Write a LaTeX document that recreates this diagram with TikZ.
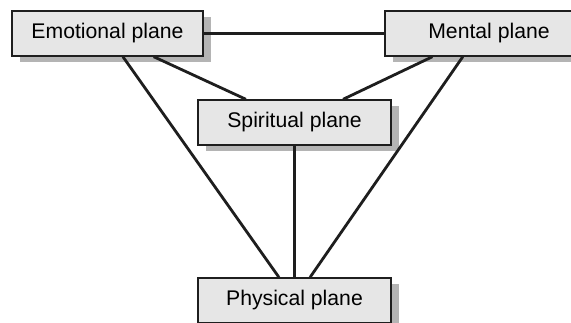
\documentclass[tikz,border=0pt]{standalone}
\usepackage{fontspec}
\setmainfont{Liberation Sans}
\usetikzlibrary{calc,shadows}
\definecolor{boxfill}{HTML}{E6E6E6}
\definecolor{shadowgray}{HTML}{B4B4B4}
\definecolor{ink}{HTML}{1E1E1E}
\begin{document}
\begin{tikzpicture}[x=1pt,y=-1pt,
  plane/.style={draw=ink, line width=1.4pt, fill=boxfill, rectangle,
    minimum height=45pt, inner sep=0pt, text=black,
    font=\fontsize{21.2}{25}\selectfont,
    drop shadow={shadow xshift=8pt, shadow yshift=-6pt, fill=shadowgray, opacity=1}},
  link/.style={draw=ink, line width=2.8pt}]
\useasboundingbox (0,0) rectangle (571,323);
\clip (0,0) rectangle (571,323);
\node[plane, minimum width=191pt] (emo) at (107.5,33.5) {Emotional plane};
\node[plane, minimum width=208pt] (men) at (489,33.5) {Mental plane};
\node[plane, minimum width=193pt] (spi) at (294.5,122.5) {Spiritual plane};
\node[plane, minimum width=193pt] (phy) at (294.5,300.5) {Physical plane};
\draw[link] (emo.east) -- (men.west);
\draw[link] ($(emo.south west)!0.74!(emo.south east)$) -- ($(spi.north west)!0.25!(spi.north east)$);
\draw[link] ($(men.south west)!0.23!(men.south east)$) -- ($(spi.north west)!0.75!(spi.north east)$);
\draw[link] ($(emo.south west)!0.58!(emo.south east)$) -- ($(phy.north west)!0.42!(phy.north east)$);
\draw[link] ($(men.south west)!0.375!(men.south east)$) -- ($(phy.north west)!0.58!(phy.north east)$);
\draw[link] (spi.south) -- (phy.north);
\end{tikzpicture}
\end{document}
